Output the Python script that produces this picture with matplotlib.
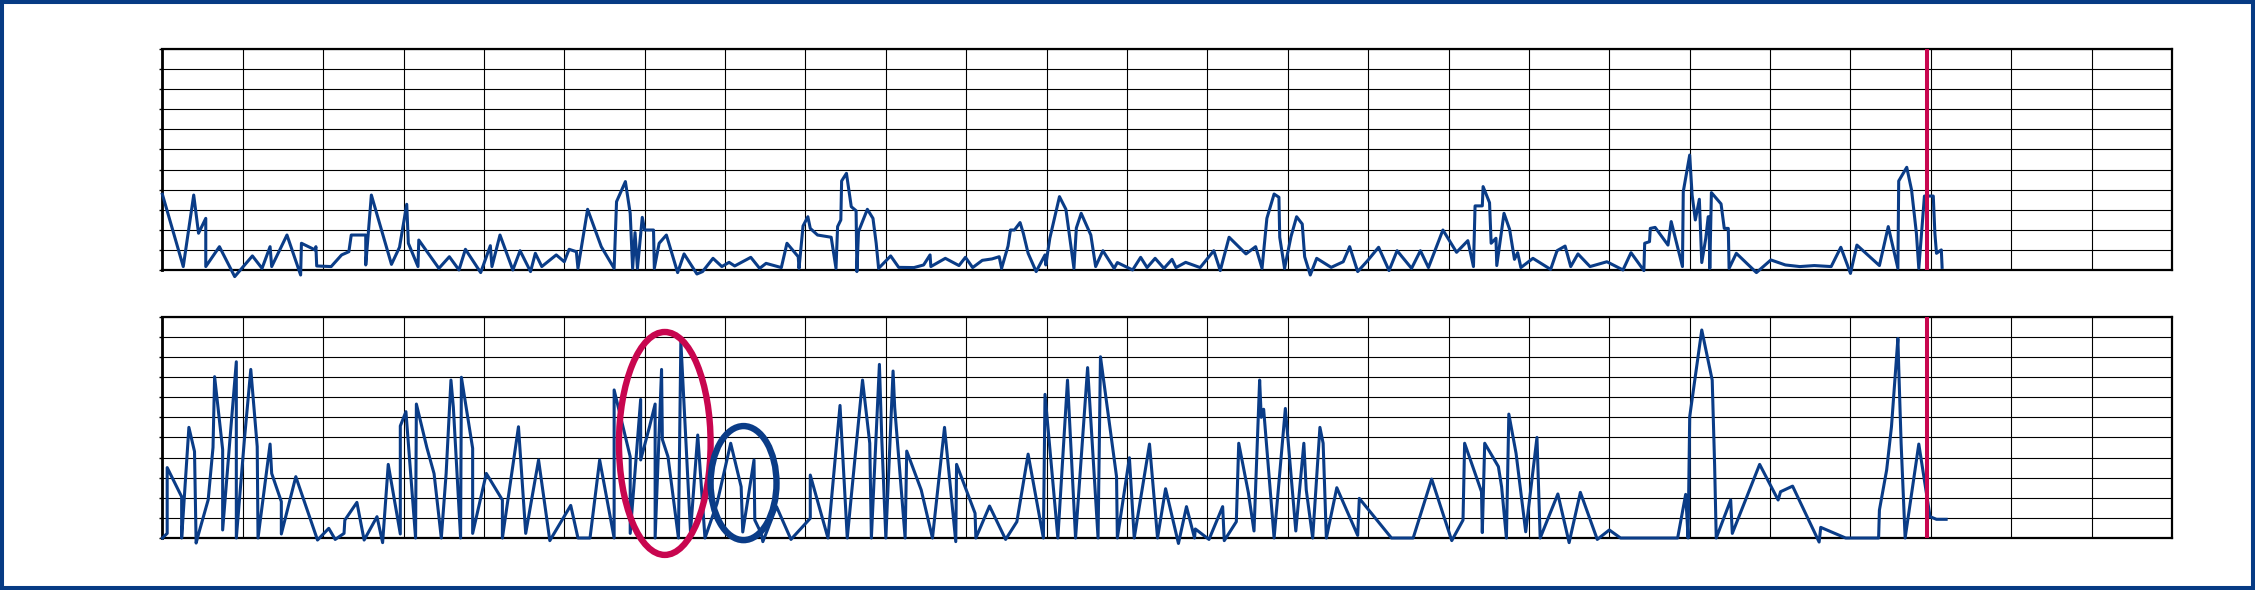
import matplotlib.pyplot as plt
import numpy as np
from matplotlib.patches import Ellipse, Rectangle

# upper series (x in grid units, y in grid units)
top_x = [0.00, 0.26, 0.39, 0.45, 0.54, 0.54, 0.71, 0.90, 1.12, 1.24, 1.34, 1.36, 1.55, 1.72,
         1.73, 1.90, 1.91, 1.92, 2.10, 2.23, 2.32, 2.35, 2.53, 2.53, 2.60, 2.85, 2.95, 3.04,
         3.06, 3.18, 3.19, 3.44, 3.57, 3.69, 3.77, 3.96, 4.08, 4.10, 4.20, 4.36, 4.45, 4.58,
         4.64, 4.72, 4.90, 5.00, 5.06, 5.15, 5.17, 5.29, 5.46, 5.62, 5.65, 5.76, 5.82, 5.85,
         5.88, 5.91, 5.97, 6.00, 6.11, 6.12, 6.18, 6.27, 6.41, 6.49, 6.65, 6.72, 6.85, 6.96,
         7.05, 7.12, 7.32, 7.43, 7.51, 7.70, 7.77, 7.91, 7.92, 7.97, 8.03, 8.06, 8.15, 8.32,
         8.38, 8.40, 8.44, 8.45, 8.51, 8.57, 8.63, 8.64, 8.66, 8.77, 8.84, 8.88, 8.91, 9.06,
         9.16, 9.35, 9.47, 9.55, 9.56, 9.74, 9.91, 9.99, 10.08, 10.20, 10.32, 10.41, 10.44,
         10.52, 10.55, 10.60, 10.67, 10.71, 10.77, 10.87, 10.98, 10.99, 11.04, 11.16, 11.24,
         11.34, 11.37, 11.43, 11.55, 11.61, 11.70, 11.84, 11.88, 12.07, 12.17, 12.25, 12.35,
         12.46, 12.56, 12.61, 12.73, 12.91, 13.08, 13.16, 13.27, 13.48, 13.60, 13.68, 13.74,
         13.83, 13.89, 13.90, 13.96, 14.04, 14.11, 14.18, 14.21, 14.28, 14.36, 14.54, 14.69,
         14.77, 14.87, 14.99, 15.13, 15.26, 15.36, 15.54, 15.65, 15.75, 15.93, 16.10, 16.24,
         16.31, 16.33, 16.42, 16.43, 16.51, 16.53, 16.59, 16.60, 16.69, 16.76, 16.82, 16.86,
         16.90, 17.05, 17.27, 17.35, 17.45, 17.52, 17.61, 17.76, 17.97, 18.17, 18.27, 18.43,
         18.44, 18.50, 18.51, 18.57, 18.73, 18.77, 18.91, 18.92, 19.00, 19.03, 19.07, 19.12,
         19.15, 19.20, 19.23, 19.24, 19.25, 19.27, 19.39, 19.43, 19.48, 19.49, 19.58, 19.83,
         20.01, 20.19, 20.37, 20.55, 20.76, 20.88, 21.00, 21.08, 21.36, 21.47, 21.59, 21.60,
         21.70, 21.76, 21.82, 21.85, 21.92, 22.03, 22.05, 22.07, 22.13, 22.14]
top_y = [3.77, 0.17, 3.73, 1.83, 2.57, 0.17, 1.16, -0.33, 0.70, 0.08, 1.16, 0.17, 1.74, -0.25,
         1.33, 1.00, 1.16, 0.20, 0.17, 0.75, 0.91, 1.74, 1.74, 0.25, 3.73, 0.28, 1.13, 3.27,
         1.33, 0.17, 1.49, 0.08, 0.66, 0.00, 1.03, -0.13, 1.21, 0.17, 1.74, 0.00, 0.96, -0.08,
         0.83, 0.17, 0.75, 0.41, 1.03, 0.91, 0.08, 3.02, 1.16, 0.08, 3.40, 4.40, 2.82, 0.08,
         1.86, 0.08, 2.62, 1.99, 1.99, 0.08, 1.33, 1.74, -0.13, 0.80, -0.20, -0.08, 0.58, 0.17,
         0.38, 0.20, 0.63, 0.08, 0.33, 0.12, 1.33, 0.66, 0.08, 2.19, 2.65, 2.07, 1.74, 1.63,
         0.08, 2.16, 2.49, 4.43, 4.81, 3.15, 2.95, -0.08, 1.91, 3.02, 2.57, 1.33, 0.08, 0.70,
         0.13, 0.12, 0.25, 0.75, 0.17, 0.58, 0.22, 0.63, 0.12, 0.48, 0.55, 0.66, 0.08,
         1.19, 1.99, 1.99, 2.36, 1.83, 0.83, -0.08, 0.75, 0.25, 1.58, 3.65, 3.02,
         0.08, 2.09, 2.82, 1.74, 0.17, 0.96, 0.08, 0.37, 0.00, 0.63, 0.12, 0.58,
         0.08, 0.53, 0.12, 0.38, 0.12, 0.96, -0.03, 1.63, 0.80, 1.16, 0.08, 2.57,
         3.78, 3.62, 1.63, 0.08, 1.66, 2.65, 2.29, 0.66, -0.25, 0.58, 0.13, 0.41,
         1.16, -0.08, 0.45, 1.13, -0.03, 0.96, 0.08, 0.96, 0.12, 1.99, 0.88, 1.46,
         0.17, 3.19, 3.19, 4.15, 3.35, 1.33, 1.58, 0.22, 2.82, 2.02, 0.53, 0.86,
         0.12, 0.58, 0.03, 0.96, 1.19, 0.17, 0.80, 0.17, 0.41, 0.00, 0.86, -0.03,
         1.33, 1.41, 2.07, 2.12, 1.24, 2.41, 0.17, 3.90, 5.72, 3.73, 2.49, 3.52,
         0.37, 1.58, 2.65, 2.65, 0.08, 3.85, 3.29, 2.07, 2.07, 0.08, 0.83, -0.13,
         0.50, 0.25, 0.17, 0.22, 0.17, 1.13, -0.17, 1.24, 0.22, 2.16, 0.08, 4.43,
         5.11, 3.98, 1.83, 0.08, 3.68, 3.68, 1.83, 0.83, 1.00, 0.13]

# lower series
bot_x = [0.00, 0.06, 0.06, 0.24, 0.24, 0.33, 0.40, 0.42, 0.45, 0.57, 0.63, 0.65, 0.75, 0.75,
         0.84, 0.92, 0.92, 1.02, 1.10, 1.18, 1.19, 1.34, 1.36, 1.48, 1.48, 1.66, 1.93, 2.07,
         2.15, 2.26, 2.27, 2.42, 2.51, 2.67, 2.74, 2.81, 2.96, 2.96, 3.03, 3.15, 3.16, 3.29,
         3.38, 3.47, 3.53, 3.59, 3.62, 3.71, 3.72, 3.86, 3.86, 4.03, 4.23, 4.23, 4.43, 4.52,
         4.68, 4.82, 5.08, 5.17, 5.32, 5.44, 5.62, 5.62, 5.82, 5.82, 5.95, 5.95, 6.06, 6.13,
         6.13, 6.21, 6.22, 6.29, 6.42, 6.45, 6.57, 6.66, 6.75, 6.90, 7.07, 7.20, 7.22, 7.36,
         7.37, 7.45, 7.47, 7.64, 7.82, 8.06, 8.06, 8.28, 8.43, 8.52, 8.71, 8.80, 8.82, 8.92,
         8.95, 9.00, 9.09, 9.11, 9.24, 9.26, 9.44, 9.58, 9.73, 9.87, 9.88, 10.11, 10.12, 10.29,
         10.49, 10.63, 10.77, 10.96, 10.98, 11.14, 11.26, 11.36, 11.51, 11.64, 11.67, 11.87,
         11.88, 12.03, 12.09, 12.28, 12.38, 12.48, 12.64, 12.74, 12.84, 12.85, 13.02, 13.19,
         13.21, 13.36, 13.39, 13.51, 13.58, 13.65, 13.67, 13.70, 13.83, 13.97, 14.10, 14.20,
         14.23, 14.31, 14.40, 14.44, 14.48, 14.61, 14.87, 14.89, 15.29, 15.56, 15.79, 16.04,
         16.18, 16.20, 16.41, 16.42, 16.45, 16.62, 16.66, 16.72, 16.75, 16.84, 16.96, 17.10,
         17.14, 17.36, 17.50, 17.64, 17.85, 18.00, 18.14, 18.85, 18.95, 18.98, 19.00, 19.15,
         19.28, 19.31, 19.33, 19.51, 19.53, 19.87, 20.10, 20.13, 20.28, 20.61, 20.63, 20.94,
         21.35, 21.36, 21.45, 21.51, 21.59, 21.60, 21.63, 21.68, 21.85, 21.99, 22.07, 22.19]
bot_y = [0.00, 0.23, 3.50, 2.05, 0.00, 5.50, 4.30, -0.25, 0.20, 1.90, 4.50, 8.02, 4.40, 0.40,
         4.87, 8.76, 0.00, 4.87, 8.38, 4.54, 0.00, 4.67, 3.21, 1.81, 0.20, 3.05, -0.10, 0.48,
         -0.07, 0.23, 0.89, 1.77, -0.10, 1.06, -0.23, 3.66, 0.20, 5.57, 6.28, 0.00, 6.66, 4.50,
         3.20, 0.00, 3.20, 7.85, 6.50, 0.00, 7.99, 4.46, 0.23, 3.21, 1.89, 0.00, 5.53, 0.23,
         3.88, -0.13, 1.62, 0.00, 0.00, 3.88, 0.00, 7.36, 4.04, 0.23, 6.89, 3.88, 5.53, 6.66,
         0.00, 8.38, 4.90, 4.04, 0.00, 9.77, 0.30, 5.12, 0.00, 1.72, 4.71, 2.55, 0.30, 3.88,
         0.89, 0.23, -0.18, 1.56, -0.07, 0.98, 3.13, 0.00, 6.59, 0.00, 7.85, 4.71, 0.00, 8.63,
         4.87, 0.00, 8.30, 6.50, 0.00, 4.32, 2.39, 0.00, 5.50, -0.18, 3.66, 1.23, 0.00, 1.59,
         -0.07, 0.81, 4.17, 0.00, 7.14, 0.00, 7.85, 0.00, 8.47, 0.00, 9.01, 3.05,
         0.00, 3.99, 0.00, 4.67, 0.00, 2.45, -0.27, 1.56, 0.00, 0.45, -0.07, 1.56,
         -0.13, 0.81, 4.71, 2.25, 0.35, 7.85, 6.00, 6.40, 0.00, 6.44, 0.35, 4.71,
         2.39, 0.00, 5.50, 4.71, 0.00, 2.50, 0.13, 1.97, 0.00, 0.00, 2.93, -0.13,
         0.89, 4.71, 2.30, 0.27, 4.71, 3.55, 2.55, 0.00, 6.16, 4.21, 0.31, 5.00,
         0.00, 2.19, -0.23, 2.27, -0.07, 0.40, 0.00, 0.00, 2.17, 0.00, 6.03, 10.34,
         7.85, 3.63, 0.00, 1.89, 0.23, 3.66, 1.89, 2.30, 2.58, -0.20, 0.53, 0.00,
         0.00, 1.39, 3.38, 5.53, 9.92, 8.52, 4.71, 0.00, 4.67, 1.06, 0.93, 0.93]

n_cols = 25
n_rows = 11
marker_x = 21.95
blue = "#0A3C87"
red = "#C8064F"

fig = plt.figure(figsize=(22.55, 5.90), dpi=100)
ax_top = fig.add_axes([0.0720, 0.5424, 0.8912, 0.3746])
ax_bot = fig.add_axes([0.0720, 0.0881, 0.8912, 0.3751])

for ax, xs, ys in [(ax_top, top_x, top_y), (ax_bot, bot_x, bot_y)]:
    ax.set_xlim(0, n_cols)
    ax.set_ylim(0, n_rows)
    ax.set_xticks(np.arange(0, n_cols + 1))
    ax.set_yticks(np.arange(0, n_rows + 1))
    ax.grid(True, color="black", linewidth=0.8)
    ax.set_axisbelow(True)
    ax.tick_params(axis="y", direction="out", length=2.5, width=1, labelleft=False)
    ax.tick_params(axis="x", length=0, labelbottom=False)
    for side in ax.spines.values():
        side.set_linewidth(1.6)
        side.set_color("black")
    ax.spines["left"].set_linewidth(2.0)
    ax.plot(xs, ys, color=blue, linewidth=2.2, clip_on=False, zorder=3)
    ax.axvline(marker_x, color=red, linewidth=2.9, zorder=4)

# highlight rings on the lower panel
ax_bot.add_patch(Ellipse((6.25, 4.70), 1.14, 11.08, fill=False, edgecolor=red,
                         linewidth=4.6, clip_on=False, zorder=5))
ax_bot.add_patch(Ellipse((7.23, 2.73), 0.82, 5.67, fill=False, edgecolor=blue,
                         linewidth=4.6, clip_on=False, zorder=5))

fig.patches.append(Rectangle((0, 0), 1, 1, transform=fig.transFigure, fill=False,
                             edgecolor="#073B84", linewidth=5.8, clip_on=False))

fig.savefig("out.png", dpi=100)
